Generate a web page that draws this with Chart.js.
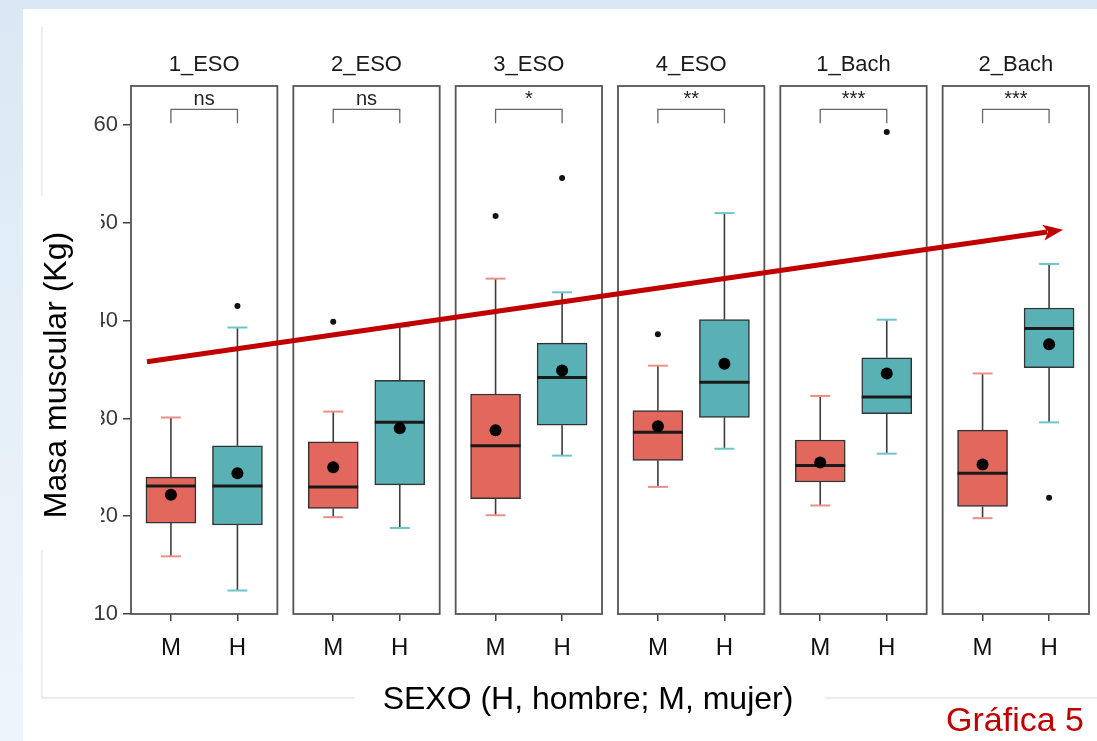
<!DOCTYPE html>
<html>
<head>
<meta charset="utf-8">
<script src="https://cdn.jsdelivr.net/npm/chart.js@4.4.0/dist/chart.umd.min.js"></script>
<style>
  html, body { margin: 0; padding: 0; }
  body { width: 1097px; height: 741px; overflow: hidden;
         background: linear-gradient(180deg, #d9e8f4 0%, #e6f0f8 55%, #eef5fa 100%); position: relative; }
  #card { position: absolute; left: 23px; top: 9px; right: 0; bottom: 0; background: #fff; }
  #chart { position: absolute; left: 0; top: 0; }
</style>
</head>
<body>
<div id="card"></div>
<canvas id="chart" width="1097" height="741"></canvas>
<script>
// grupos (facetas) y significación
const groups = ['1_ESO', '2_ESO', '3_ESO', '4_ESO', '1_Bach', '2_Bach'];
const signif = ['ns', 'ns', '*', '**', '***', '***'];
const sexes = ['M', 'H'];
const yTicks = [10, 20, 30, 40, 50, 60];

// M (mujer)
const mLow  = [15.9, 19.9, 20.1, 23.0, 21.1, 19.8];
const mQ1   = [19.3, 20.8, 21.8, 25.7, 23.5, 21.0];
const mMed  = [23.1, 23.0, 27.2, 28.6, 25.2, 24.4];
const mQ3   = [24.0, 27.6, 32.5, 30.8, 27.8, 28.8];
const mHigh = [30.1, 30.7, 44.3, 35.4, 32.3, 34.6];
const mMean = [22.2, 25.0, 28.8, 29.2, 25.5, 25.3];
const mOut  = [[], [39.9], [50.7], [38.6], [], []];

// H (hombre)
const hLow  = [12.4, 18.8, 26.2, 26.9, 26.4, 29.6];
const hQ1   = [19.1, 23.2, 29.3, 30.1, 30.5, 35.2];
const hMed  = [23.1, 29.6, 34.2, 33.7, 32.2, 39.2];
const hQ3   = [27.2, 33.9, 37.7, 40.1, 36.2, 41.3];
const hHigh = [39.3, 39.4, 42.9, 51.0, 40.1, 45.8];
const hMean = [24.4, 29.0, 34.9, 35.6, 34.6, 37.6];
const hOut  = [[41.5], [], [54.6], [], [59.3], [21.9]];

// flecha de tendencia (x en unidades del eje, y en kg)
const arrowFrom = { x: 0.24, y: 35.8 };
const arrowTo   = { x: 14.01, y: 49.3 };

// layout de facetas en un eje lineal
const PANEL_W = 2.2, PANEL_STEP = 2.44;
const pos = (g, s) => g * PANEL_STEP + 0.6 + s;   // s: 0 = M, 1 = H

const stats = [
  { low: mLow, q1: mQ1, med: mMed, q3: mQ3, high: mHigh, mean: mMean, out: mOut, fill: '#e2675d', cap: '#ef8e88' },
  { low: hLow, q1: hQ1, med: hMed, q3: hQ3, high: hHigh, mean: hMean, out: hOut, fill: '#59b1b6', cap: '#6cc5cb' }
];

const xTickPos = [], xTickLab = [];
groups.forEach((g, i) => sexes.forEach((s, j) => { xTickPos.push(pos(i, j)); xTickLab.push(s); }));

const FONT = "'Liberation Sans', Arial, Helvetica, sans-serif";

const boxPlugin = {
  id: 'boxes',
  beforeDraw(chart) {
    const ctx = chart.ctx;
    ctx.save();
    ctx.strokeStyle = '#dfe8f1';
    ctx.lineWidth = 1.5;
    ctx.beginPath();
    ctx.moveTo(42, 27); ctx.lineTo(42, 698); ctx.lineTo(1097, 698);
    ctx.stroke();
    ctx.restore();
  },
  beforeDatasetsDraw(chart) {
    const ctx = chart.ctx, xs = chart.scales.x, ys = chart.scales.y;
    ctx.save();
    stats.forEach((st, s) => {
      groups.forEach((g, i) => {
        const x = xs.getPixelForValue(pos(i, s));
        ctx.strokeStyle = '#3d3d3d';
        ctx.lineWidth = 1.6;
        ctx.beginPath();
        ctx.moveTo(x, ys.getPixelForValue(st.low[i])); ctx.lineTo(x, ys.getPixelForValue(st.q1[i]));
        ctx.moveTo(x, ys.getPixelForValue(st.q3[i])); ctx.lineTo(x, ys.getPixelForValue(st.high[i]));
        ctx.stroke();
        ctx.strokeStyle = st.cap;
        ctx.lineWidth = 2;
        const x0 = xs.getPixelForValue(pos(i, s) - 0.15), x1 = xs.getPixelForValue(pos(i, s) + 0.15);
        [st.low[i], st.high[i]].forEach(v => {
          const y = ys.getPixelForValue(v);
          ctx.beginPath(); ctx.moveTo(x0, y); ctx.lineTo(x1, y); ctx.stroke();
        });
      });
    });
    ctx.restore();
  },
  afterDatasetDraw(chart, args) {
    if (args.index > 1) return;
    const ctx = chart.ctx, xs = chart.scales.x, ys = chart.scales.y;
    const st = stats[args.index];
    ctx.save();
    ctx.strokeStyle = '#1a1a1a';
    ctx.lineWidth = 3;
    groups.forEach((g, i) => {
      const y = ys.getPixelForValue(st.med[i]);
      const x0 = xs.getPixelForValue(pos(i, args.index)) - 25, x1 = x0 + 50;
      ctx.beginPath(); ctx.moveTo(x0, y); ctx.lineTo(x1, y); ctx.stroke();
    });
    ctx.restore();
  },
  afterDatasetsDraw(chart) {
    const ctx = chart.ctx, xs = chart.scales.x, ys = chart.scales.y, area = chart.chartArea;
    ctx.save();
    // marcos y etiquetas de faceta
    groups.forEach((g, i) => {
      const l = xs.getPixelForValue(i * PANEL_STEP), r = xs.getPixelForValue(i * PANEL_STEP + PANEL_W);
      ctx.strokeStyle = '#555';
      ctx.lineWidth = 1.8;
      ctx.strokeRect(l, area.top, r - l, area.bottom - area.top);
      ctx.fillStyle = '#1a1a1a';
      ctx.font = '22px ' + FONT;
      ctx.textAlign = 'center';
      ctx.textBaseline = 'middle';
      ctx.fillText(g, (l + r) / 2, 65);
      // corchete de significación
      const bx0 = xs.getPixelForValue(pos(i, 0)), bx1 = xs.getPixelForValue(pos(i, 1));
      const yt = ys.getPixelForValue(61.6), yb = ys.getPixelForValue(60.2);
      ctx.strokeStyle = '#666';
      ctx.lineWidth = 1.3;
      ctx.beginPath();
      ctx.moveTo(bx0, yb); ctx.lineTo(bx0, yt); ctx.lineTo(bx1, yt); ctx.lineTo(bx1, yb);
      ctx.stroke();
      ctx.fillStyle = '#222';
      ctx.font = '20px ' + FONT;
      ctx.textBaseline = 'alphabetic';
      ctx.fillText(signif[i], (bx0 + bx1) / 2, yt - 4);
    });
    // flecha
    const ax0 = xs.getPixelForValue(arrowFrom.x), ay0 = ys.getPixelForValue(arrowFrom.y);
    const ax1 = xs.getPixelForValue(arrowTo.x), ay1 = ys.getPixelForValue(arrowTo.y);
    const ang = Math.atan2(ay1 - ay0, ax1 - ax0);
    const hl = 20, hw = 8;
    const bxp = ax1 - hl * Math.cos(ang), byp = ay1 - hl * Math.sin(ang);
    ctx.strokeStyle = '#c00000';
    ctx.fillStyle = '#c00000';
    ctx.lineWidth = 5;
    ctx.beginPath(); ctx.moveTo(ax0, ay0); ctx.lineTo(bxp + 4 * Math.cos(ang), byp + 4 * Math.sin(ang)); ctx.stroke();
    ctx.beginPath();
    ctx.moveTo(ax1, ay1);
    ctx.lineTo(bxp + hw * Math.sin(ang), byp - hw * Math.cos(ang));
    ctx.lineTo(bxp + 5 * Math.cos(ang), byp + 5 * Math.sin(ang));
    ctx.lineTo(bxp - hw * Math.sin(ang), byp + hw * Math.cos(ang));
    ctx.closePath();
    ctx.fill();
    ctx.restore();
  },
  afterDraw(chart) {
    const ctx = chart.ctx;
    ctx.save();
    // cuadros de texto superpuestos (tapan parte de las etiquetas del eje)
    ctx.fillStyle = '#fff';
    ctx.fillRect(28, 196, 73, 354);
    ctx.fillRect(355, 682, 470, 34);
    ctx.fillStyle = '#000';
    ctx.font = '32px ' + FONT;
    ctx.textAlign = 'center';
    ctx.textBaseline = 'middle';
    ctx.translate(57, 375);
    ctx.rotate(-Math.PI / 2);
    ctx.fillText('Masa muscular (Kg)', 0, 0);
    ctx.setTransform(1, 0, 0, 1, 0, 0);
    ctx.fillText('SEXO (H, hombre; M, mujer)', 588, 700);
    ctx.fillStyle = '#c00000';
    ctx.font = '34px ' + FONT;
    ctx.textAlign = 'right';
    ctx.textBaseline = 'alphabetic';
    ctx.fillText('Gráfica 5', 1084, 731);
    ctx.restore();
  }
};

const boxData = s => groups.map((g, i) => ({ x: pos(i, s), y: [stats[s].q1[i], stats[s].q3[i]] }));
const meanData = [];
const outData = [];
stats.forEach((st, s) => groups.forEach((g, i) => {
  meanData.push({ x: pos(i, s), y: st.mean[i] });
  st.out[i].forEach(v => outData.push({ x: pos(i, s), y: v }));
}));

new Chart(document.getElementById('chart'), {
  type: 'bar',
  data: {
    datasets: [
      { label: 'M', data: boxData(0), backgroundColor: stats[0].fill, borderColor: '#333', borderWidth: 1.5,
        borderSkipped: false, barThickness: 50, grouped: false, order: 3 },
      { label: 'H', data: boxData(1), backgroundColor: stats[1].fill, borderColor: '#333', borderWidth: 1.5,
        borderSkipped: false, barThickness: 50, grouped: false, order: 3 },
      { type: 'scatter', label: 'media', data: meanData, pointRadius: 6, pointBackgroundColor: '#000',
        pointBorderWidth: 0, order: 1 },
      { type: 'scatter', label: 'atípicos', data: outData, pointRadius: 3, pointBackgroundColor: '#111',
        pointBorderWidth: 0, order: 1 }
    ]
  },
  options: {
    responsive: false,
    animation: false,
    devicePixelRatio: 1,
    layout: { padding: { top: 86, right: 8, left: 0, bottom: 0 } },
    plugins: { legend: { display: false }, tooltip: { enabled: false } },
    scales: {
      x: {
        type: 'linear', min: 0, max: 5 * PANEL_STEP + PANEL_W, offset: false,
        afterBuildTicks: sc => { sc.ticks = xTickPos.map(v => ({ value: v })); },
        afterFit: sc => { sc.height = 127; },
        grid: { offset: false, drawOnChartArea: false, drawTicks: true, tickLength: 7, color: '#444', lineWidth: 1.5 },
        border: { display: false },
        ticks: { autoSkip: false, maxRotation: 0, padding: 13, color: '#111',
                 font: { family: FONT, size: 24 }, callback: (v, i) => xTickLab[i] }
      },
      y: {
        min: 10, max: 64,
        afterBuildTicks: sc => { sc.ticks = yTicks.map(v => ({ value: v })); },
        afterFit: sc => { sc.width = 131; },
        grid: { drawOnChartArea: false, drawTicks: true, tickLength: 8, color: '#444', lineWidth: 1.5 },
        border: { display: false },
        ticks: { padding: 5, color: '#3a3a3a', font: { family: FONT, size: 22 } }
      }
    }
  },
  plugins: [boxPlugin]
});
</script>
</body>
</html>
